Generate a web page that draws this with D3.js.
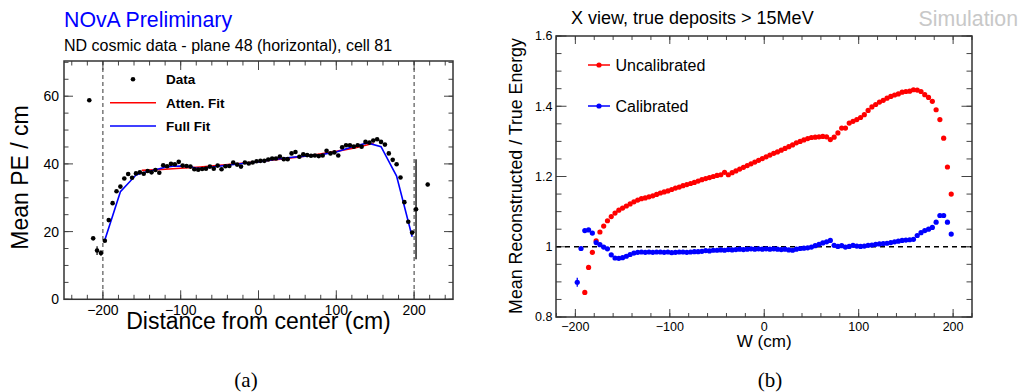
<!DOCTYPE html>
<html>
<head>
<meta charset="utf-8">
<script src="https://cdn.jsdelivr.net/npm/d3@7"></script>
<style>
  body { margin: 0; background: #fff; }
  text { font-family: "Liberation Sans", Arial, Helvetica, sans-serif; }
</style>
</head>
<body>
<div id="chart"></div>
<script>
// ---- panel (a): mean PE per cm vs distance from center ----
var peX = d3.range(-217.5, 218, 5);   // bin centres (cm)
var peMean = [58.8, 18.0, 14.4, 13.7, 17.3, 23.4, 28.4, 31.9, 33.3, 35.7,
  37.0, 35.9, 37.2, 37.5, 37.1, 37.9, 37.5, 38.2, 37.4, 39.6,
  39.3, 40.0, 39.9, 40.6, 39.5, 39.4, 39.2, 38.4, 38.3, 38.5,
  38.6, 39.2, 38.6, 39.5, 38.4, 39.3, 39.4, 40.4, 39.8, 39.2,
  40.4, 40.1, 40.4, 40.8, 40.9, 40.9, 41.3, 41.6, 41.6, 42.2,
  41.4, 41.4, 43.1, 43.5, 42.1, 42.8, 42.6, 42.4, 42.5, 42.3,
  42.5, 43.9, 43.1, 43.4, 42.5, 44.9, 45.5, 45.5, 45.1, 45.5,
  45.1, 46.5, 46.3, 46.9, 47.3, 46.5, 45.7, 43.1, 41.2, 39.9,
  36.0, 28.7, 22.9, 19.7, 26.6, null, null, 33.9];
var peErr = [0.4, 0.5, 1.3, 0.8, 0.4, 0.3, 0.3, 0.3, 0.3, 0.3,
  0.3, 0.3, 0.3, 0.3, 0.3, 0.3, 0.3, 0.3, 0.3, 0.3,
  0.3, 0.3, 0.3, 0.3, 0.3, 0.3, 0.3, 0.3, 0.3, 0.3,
  0.3, 0.3, 0.3, 0.3, 0.3, 0.3, 0.3, 0.3, 0.3, 0.3,
  0.3, 0.3, 0.3, 0.3, 0.3, 0.3, 0.3, 0.3, 0.3, 0.3,
  0.3, 0.3, 0.3, 0.3, 0.3, 0.3, 0.3, 0.3, 0.3, 0.3,
  0.3, 0.3, 0.3, 0.3, 0.3, 0.3, 0.3, 0.3, 0.3, 0.3,
  0.3, 0.3, 0.3, 0.3, 0.3, 0.3, 0.3, 0.3, 0.3, 0.3,
  0.3, 0.3, 0.3, 0.4, 14.8, 0, 0, 0.5];
var attenX = [-150, -125, -100, -75, -50, -25, 0, 25, 50, 75, 100, 125, 148];
var attenY = [38.1, 38.35, 38.7, 39.1, 39.6, 40.1, 40.7, 41.3, 42.0, 42.8, 43.7, 44.8, 46.1];
var fullX = [-197.5, -177.5, -157.5, -150, -137.5, -120, -110, -100, -90, -80, -70, -60, -40,
  -20, 0, 20, 40, 60, 80, 100, 120, 140, 157.5, 177.5, 197.5];
var fullY = [17.5, 31.8, 36.7, 37.3, 38.0, 39.0, 39.3, 39.4, 39.2, 38.8, 38.7, 39.1, 39.6,
  40.1, 40.6, 41.3, 41.9, 42.3, 42.7, 43.5, 45.0, 46.2, 45.1, 36.4, 18.5];
var aXTicks = [-200, -100, 0, 100, 200];
var aYTicks = [0, 20, 40, 60];
var aLegend = ["Data", "Atten. Fit", "Full Fit"];

// ---- panel (b): reconstructed / true energy vs W ----
var wX = d3.range(-198, 199, 4);      // bin centres (cm)
var uncal = [null, null, 0.870, 0.941, 0.984, 1.017, 1.042, 1.059, 1.074, 1.086,
  1.096, 1.104, 1.110, 1.116, 1.122, 1.128, 1.133, 1.137, 1.139, 1.142,
  1.145, 1.149, 1.153, 1.156, 1.159, 1.163, 1.167, 1.170, 1.174, 1.177,
  1.180, 1.183, 1.187, 1.191, 1.194, 1.197, 1.200, 1.203, 1.205, 1.212,
  1.205, 1.211, 1.216, 1.221, 1.226, 1.231, 1.236, 1.241, 1.246, 1.251,
  1.256, 1.261, 1.266, 1.270, 1.275, 1.280, 1.285, 1.290, 1.296, 1.300,
  1.304, 1.308, 1.311, 1.312, 1.313, 1.314, 1.313, 1.305, 1.312, 1.324,
  1.338, 1.338, 1.352, 1.357, 1.362, 1.368, 1.376, 1.388, 1.398, 1.405,
  1.412, 1.417, 1.423, 1.428, 1.432, 1.435, 1.440, 1.442, 1.443, 1.447,
  1.446, 1.442, 1.433, 1.425, 1.414, 1.390, 1.362, 1.309, 1.227, 1.150];
var calib = [0.899, 0.995, 1.046, 1.048, 1.039, 1.012, 1.006, 0.999, 0.994, 0.977,
  0.968, 0.967, 0.969, 0.973, 0.978, 0.982, 0.984, 0.985, 0.984, 0.985,
  0.984, 0.985, 0.985, 0.984, 0.985, 0.983, 0.984, 0.985, 0.985, 0.984,
  0.985, 0.986, 0.986, 0.987, 0.989, 0.988, 0.990, 0.990, 0.991, 0.990,
  0.992, 0.991, 0.992, 0.993, 0.992, 0.993, 0.994, 0.993, 0.994, 0.993,
  0.994, 0.993, 0.994, 0.993, 0.992, 0.993, 0.991, 0.990, 0.993, 0.995,
  0.996, 0.997, 0.999, 1.003, 1.007, 1.011, 1.014, 1.018, 1.004, 1.001,
  1.003, 0.999, 1.001, 1.004, 1.002, 1.001, 1.002, 1.004, 1.005, 1.007,
  1.008, 1.009, 1.010, 1.012, 1.014, 1.016, 1.018, 1.019, 1.020, 1.021,
  1.032, 1.040, 1.046, 1.050, 1.055, 1.070, 1.089, 1.089, 1.070, 1.036];
var calibErr = [0.013];   // only the first bin has a visible error bar
var bXTicks = [-200, -100, 0, 100, 200];
var bYTicks = [0.8, 1.0, 1.2, 1.4, 1.6];
var bLegend = ["Uncalibrated", "Calibrated"];

var W = 1023, H = 392;
var svg = d3.select("#chart").append("svg")
  .attr("width", W).attr("height", H)
  .style("background", "#fff");

function frameTicks(g, x, y, xMinor, yMinor, xMajor, yMajor, len) {
  /* ROOT-like ticks pointing inward on all four sides */
  var r = x.range(), t = y.range();
  var top = t[1], bottom = t[0], left = r[0], right = r[1];
  var tk = g.append("g").attr("stroke", "#444").attr("stroke-width", 1);
  function vt(v, l) {
    tk.append("line").attr("x1", x(v)).attr("x2", x(v)).attr("y1", bottom).attr("y2", bottom - l);
    tk.append("line").attr("x1", x(v)).attr("x2", x(v)).attr("y1", top).attr("y2", top + l);
  }
  function ht(v, l) {
    tk.append("line").attr("y1", y(v)).attr("y2", y(v)).attr("x1", left).attr("x2", left + l);
    tk.append("line").attr("y1", y(v)).attr("y2", y(v)).attr("x1", right).attr("x2", right - l);
  }
  xMinor.forEach(function(v) { vt(v, len.xmin); });
  xMajor.forEach(function(v) { vt(v, len.xmaj); });
  yMinor.forEach(function(v) { ht(v, len.ymin); });
  yMajor.forEach(function(v) { ht(v, len.ymaj); });
}

// ================= panel (a) =================
(function() {
  var x = d3.scaleLinear().domain([-250, 250]).range([64, 453]);
  var y = d3.scaleLinear().domain([0, 70.4]).range([299.3, 61]);
  var g = svg.append("g");

  g.append("text").attr("x", 64).attr("y", 27.3).attr("fill", "#0000ff")
    .style("font-size", "21.3px").text("NOvA Preliminary");
  g.append("text").attr("x", 64).attr("y", 50.7).attr("fill", "#000")
    .style("font-size", "16px").text("ND cosmic data - plane 48 (horizontal), cell 81");

  // dashed fiducial lines
  [-200, 200].forEach(function(v) {
    g.append("line").attr("x1", x(v)).attr("x2", x(v)).attr("y1", y.range()[1]).attr("y2", y.range()[0])
      .attr("stroke", "#333").attr("stroke-width", 1).attr("stroke-dasharray", "4,3");
  });

  frameTicks(g, x, y,
    d3.range(-240, 241, 20), d3.range(0, 71, 5), aXTicks, aYTicks,
    {xmin: 4.5, xmaj: 9, ymin: 4.5, ymaj: 9});

  // tick labels
  g.append("g").selectAll("text").data(aXTicks).join("text")
    .attr("x", function(d) { return x(d); }).attr("y", 314.5)
    .attr("text-anchor", "middle").style("font-size", "14px")
    .text(function(d) { return d3.format("")(d); });
  g.append("g").selectAll("text").data(aYTicks).join("text")
    .attr("x", 59).attr("y", function(d) { return y(d) + 5; })
    .attr("text-anchor", "end").style("font-size", "14px")
    .text(function(d) { return d; });

  g.append("text").attr("x", 258.5).attr("y", 328.5).attr("text-anchor", "middle")
    .style("font-size", "23px").text("Distance from center (cm)");
  g.append("text").attr("transform", "translate(28,177.5) rotate(-90)")
    .attr("text-anchor", "middle").style("font-size", "23px").text("Mean PE / cm");

  // fits
  var line = d3.line().x(function(d) { return x(d[0]); }).y(function(d) { return y(d[1]); });
  g.append("path").datum(d3.zip(attenX, attenY)).attr("d", line)
    .attr("fill", "none").attr("stroke", "#ff0000").attr("stroke-width", 1.6);
  g.append("path").datum(d3.zip(fullX, fullY)).attr("d", line)
    .attr("fill", "none").attr("stroke", "#0000ff").attr("stroke-width", 1.6);

  // data
  var pts = peX.map(function(v, i) { return {x: v, y: peMean[i], e: peErr[i]}; })
    .filter(function(d) { return d.y !== null; });
  g.append("g").selectAll("line").data(pts).join("line")
    .attr("x1", function(d) { return x(d.x); }).attr("x2", function(d) { return x(d.x); })
    .attr("y1", function(d) { return y(d.y - d.e); }).attr("y2", function(d) { return y(d.y + d.e); })
    .attr("stroke", function(d) { return d.e > 5 ? "#444" : "#000"; })
    .attr("stroke-width", function(d) { return d.e > 5 ? 1.8 : 1.2; });
  g.append("g").selectAll("circle").data(pts).join("circle")
    .attr("cx", function(d) { return x(d.x); }).attr("cy", function(d) { return y(d.y); })
    .attr("r", 2.3).attr("fill", "#000");

  // frame
  g.append("rect").attr("x", 64).attr("y", 61).attr("width", 453 - 64).attr("height", 299.3 - 61)
    .attr("fill", "none").attr("stroke", "#333").attr("stroke-width", 1.5);

  // legend
  var lg = g.append("g").style("font-weight", "bold").style("font-size", "13.5px");
  lg.append("circle").attr("cx", 133).attr("cy", 79.3).attr("r", 2.3).attr("fill", "#000");
  lg.append("line").attr("x1", 110).attr("x2", 156).attr("y1", 102.7).attr("y2", 102.7)
    .attr("stroke", "#ff0000").attr("stroke-width", 1.6);
  lg.append("line").attr("x1", 110).attr("x2", 156).attr("y1", 126).attr("y2", 126)
    .attr("stroke", "#0000ff").attr("stroke-width", 1.6);
  lg.selectAll("text").data(aLegend).join("text")
    .attr("x", 166).attr("y", function(d, i) { return 84 + i * 23.5; })
    .text(function(d) { return d; });

  svg.append("text").attr("x", 246).attr("y", 387).attr("text-anchor", "middle")
    .style("font-family", "'Liberation Serif', 'Times New Roman', serif").style("font-size", "21px")
    .text("(a)");
})();

// ================= panel (b) =================
(function() {
  var x = d3.scaleLinear().domain([-220.5, 220]).range([556, 972]);
  var y = d3.scaleLinear().domain([0.8, 1.6]).range([317, 36]);
  var g = svg.append("g");

  g.append("text").attr("x", 571).attr("y", 23.5).style("font-size", "18px")
    .text("X view, true deposits > 15MeV");
  g.append("text").attr("x", 1018).attr("y", 26).attr("text-anchor", "end")
    .attr("fill", "#c8c8c8").style("font-size", "21.3px").text("Simulation");

  frameTicks(g, x, y,
    d3.range(-220, 221, 20), d3.range(0.8, 1.61, 0.05), bXTicks, bYTicks,
    {xmin: 4, xmaj: 8, ymin: 5.5, ymaj: 10.5});

  g.append("g").selectAll("text").data(bXTicks).join("text")
    .attr("x", function(d) { return x(d); }).attr("y", 330.5)
    .attr("text-anchor", "middle").style("font-size", "12.5px")
    .text(function(d) { return d3.format("")(d); });
  g.append("g").selectAll("text").data(bYTicks).join("text")
    .attr("x", 552.5).attr("y", function(d) { return y(d) + 4.3; })
    .attr("text-anchor", "end").style("font-size", "12.5px")
    .text(function(d) { return d3.format("")(d); });

  g.append("text").attr("x", x(0)).attr("y", 347).attr("text-anchor", "middle")
    .style("font-size", "17px").text("W (cm)");
  g.append("text").attr("transform", "translate(522,176) rotate(-90)")
    .attr("text-anchor", "middle").style("font-size", "17.8px").text("Mean Reconstructed / True Energy");

  g.append("line").attr("x1", x.range()[0]).attr("x2", x.range()[1])
    .attr("y1", y(1)).attr("y2", y(1))
    .attr("stroke", "#000").attr("stroke-width", 1.3).attr("stroke-dasharray", "5,4");

  function series(vals, errs, color) {
    var pts = wX.map(function(v, i) { return {x: v, y: vals[i], e: errs[i] || 0}; })
      .filter(function(d) { return d.y !== null; });
    g.append("g").selectAll("line").data(pts.filter(function(d) { return d.e > 0.005; })).join("line")
      .attr("x1", function(d) { return x(d.x); }).attr("x2", function(d) { return x(d.x); })
      .attr("y1", function(d) { return y(d.y - d.e); }).attr("y2", function(d) { return y(d.y + d.e); })
      .attr("stroke", color).attr("stroke-width", 1.3);
    g.append("g").selectAll("circle").data(pts).join("circle")
      .attr("cx", function(d) { return x(d.x); }).attr("cy", function(d) { return y(d.y); })
      .attr("r", 2.6).attr("fill", color);
  }
  series(uncal, [], "#ff0000");
  series(calib, calibErr, "#0000ff");

  g.append("rect").attr("x", 556).attr("y", 36).attr("width", 972 - 556).attr("height", 317 - 36)
    .attr("fill", "none").attr("stroke", "#333").attr("stroke-width", 1.5);

  var colors = ["#ff0000", "#0000ff"];
  var lg = g.append("g");
  bLegend.forEach(function(name, i) {
    var ly = 65 + i * 41;
    lg.append("line").attr("x1", 588).attr("x2", 610).attr("y1", ly).attr("y2", ly)
      .attr("stroke", colors[i]).attr("stroke-width", 1.5);
    lg.append("circle").attr("cx", 599).attr("cy", ly).attr("r", 2.6).attr("fill", colors[i]);
    lg.append("text").attr("x", 615.5).attr("y", ly + 5.6).style("font-size", "16px").text(name);
  });

  svg.append("text").attr("x", 770).attr("y", 387).attr("text-anchor", "middle")
    .style("font-family", "'Liberation Serif', 'Times New Roman', serif").style("font-size", "21px")
    .text("(b)");
})();
</script>
</body>
</html>
